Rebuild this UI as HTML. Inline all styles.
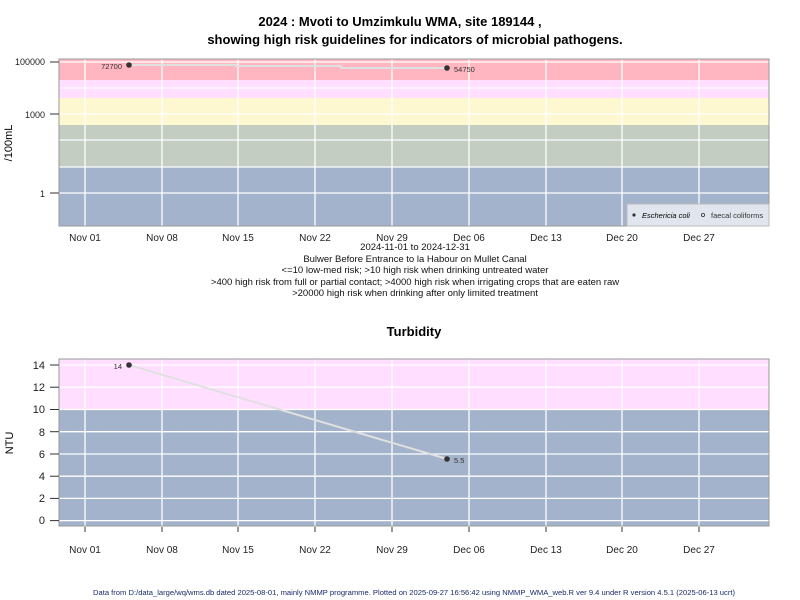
<!DOCTYPE html>
<html><head><style>body{margin:0;background:#fff}svg{display:block;font-family:"Liberation Sans",Arial,sans-serif}</style></head>
<body>
<svg width="800" height="600" viewBox="0 0 800 600" xmlns="http://www.w3.org/2000/svg">
<text x="400" y="26" text-anchor="middle" font-size="13" font-weight="bold">2024 : Mvoti to Umzimkulu WMA, site 189144 ,</text>
<text x="415" y="44" text-anchor="middle" font-size="13" font-weight="bold">showing high risk guidelines for indicators of microbial pathogens.</text>
<!-- top plot -->
<rect x="59" y="59" width="710" height="21" fill="#ffb6c1"/>
<rect x="59" y="80" width="710" height="18" fill="#ffdeff"/>
<rect x="59" y="98" width="710" height="27" fill="#fdf8cf"/>
<rect x="59" y="125" width="710" height="42" fill="#c3cdc1"/>
<rect x="59" y="167" width="710" height="59" fill="#a2b3cb"/>
<g stroke="#fff" stroke-width="1.3">
<line x1="59" x2="769" y1="62" y2="62"/><line x1="59" x2="769" y1="88" y2="88"/><line x1="59" x2="769" y1="114" y2="114"/><line x1="59" x2="769" y1="140" y2="140"/><line x1="59" x2="769" y1="167" y2="167"/><line x1="59" x2="769" y1="193" y2="193"/>
<line x1="85" x2="85" y1="59" y2="226"/><line x1="162" x2="162" y1="59" y2="226"/><line x1="238" x2="238" y1="59" y2="226"/><line x1="315" x2="315" y1="59" y2="226"/><line x1="392" x2="392" y1="59" y2="226"/><line x1="469" x2="469" y1="59" y2="226"/><line x1="546" x2="546" y1="59" y2="226"/><line x1="622" x2="622" y1="59" y2="226"/><line x1="699" x2="699" y1="59" y2="226"/>
</g>
<rect x="59" y="59" width="710" height="167" fill="none" stroke="#999"/>
<polyline points="129,65 236,65 236,66 341,66 341,68 447,68" fill="none" stroke="#e0e0e0" stroke-width="2"/>
<circle cx="129" cy="65" r="2.8" fill="#333"/><circle cx="447" cy="68" r="2.8" fill="#333"/>
<text x="122" y="69" text-anchor="end" font-size="7.5" fill="#333">72700</text>
<text x="454" y="72" font-size="7.5" fill="#333">54750</text>
<rect x="627" y="204" width="142" height="22" fill="#e1e6ee" stroke="#bbb"/>
<circle cx="634" cy="215" r="1.6" fill="#333"/><text x="642" y="218" font-size="7.5" font-style="italic">Eschericia coli</text>
<circle cx="703" cy="215" r="1.6" fill="none" stroke="#333" stroke-width="0.8"/><text x="711" y="218" font-size="7.5" fill="#333">faecal coliforms</text>
<g font-size="9" text-anchor="end" fill="#222">
<text x="45" y="65">100000</text><text x="45" y="118">1000</text><text x="45" y="197">1</text>
</g>
<g stroke="#333"><line x1="50" x2="59" y1="62" y2="62"/><line x1="50" x2="59" y1="114" y2="114"/><line x1="50" x2="59" y1="193" y2="193"/></g>
<text transform="translate(12,143) rotate(-90)" text-anchor="middle" font-size="11">/100mL</text>
<g font-size="10" text-anchor="middle" fill="#222">
<text x="85" y="241">Nov 01</text><text x="162" y="241">Nov 08</text><text x="238" y="241">Nov 15</text><text x="315" y="241">Nov 22</text><text x="392" y="241">Nov 29</text><text x="469" y="241">Dec 06</text><text x="546" y="241">Dec 13</text><text x="622" y="241">Dec 20</text><text x="699" y="241">Dec 27</text>
</g>
<g font-size="9.5" text-anchor="middle" fill="#111">
<text x="415" y="250">2024-11-01 to 2024-12-31</text>
<text x="415" y="262">Bulwer Before Entrance to la Habour on Mullet Canal</text>
<text x="415" y="273">&lt;=10 low-med risk; &gt;10 high risk when drinking untreated water</text>
<text x="415" y="285">&gt;400 high risk from full or partial contact; &gt;4000 high risk when irrigating crops that are eaten raw</text>
<text x="415" y="296">&gt;20000 high risk when drinking after only limited treatment</text>
</g>
<text x="414" y="336" text-anchor="middle" font-size="13" font-weight="bold">Turbidity</text>
<!-- bottom plot -->
<rect x="59" y="359" width="710" height="50.5" fill="#ffdeff"/>
<rect x="59" y="409.5" width="710" height="117" fill="#a2b3cb"/>
<g stroke="#fff" stroke-width="1.3">
<line x1="59" x2="769" y1="365" y2="365"/><line x1="59" x2="769" y1="387.2" y2="387.2"/><line x1="59" x2="769" y1="409.5" y2="409.5"/><line x1="59" x2="769" y1="431.7" y2="431.7"/><line x1="59" x2="769" y1="454" y2="454"/><line x1="59" x2="769" y1="476.2" y2="476.2"/><line x1="59" x2="769" y1="498.4" y2="498.4"/><line x1="59" x2="769" y1="520.6" y2="520.6"/>
<line x1="85" x2="85" y1="359" y2="526"/><line x1="162" x2="162" y1="359" y2="526"/><line x1="238" x2="238" y1="359" y2="526"/><line x1="315" x2="315" y1="359" y2="526"/><line x1="392" x2="392" y1="359" y2="526"/><line x1="469" x2="469" y1="359" y2="526"/><line x1="546" x2="546" y1="359" y2="526"/><line x1="622" x2="622" y1="359" y2="526"/><line x1="699" x2="699" y1="359" y2="526"/>
</g>
<rect x="59" y="359" width="710" height="167" fill="none" stroke="#999"/>
<line x1="129" y1="365" x2="447" y2="459" stroke="#e0e0e0" stroke-width="2"/>
<circle cx="129" cy="365" r="2.8" fill="#333"/><circle cx="447" cy="459" r="2.8" fill="#333"/>
<text x="122" y="369" text-anchor="end" font-size="7.5" fill="#333">14</text>
<text x="454" y="463" font-size="7.5" fill="#333">5.5</text>
<g font-size="11" text-anchor="end" fill="#222">
<text x="45" y="369">14</text><text x="45" y="391">12</text><text x="45" y="413">10</text><text x="45" y="436">8</text><text x="45" y="458">6</text><text x="45" y="480">4</text><text x="45" y="502">2</text><text x="45" y="524">0</text>
</g>
<g stroke="#333"><line x1="50" x2="59" y1="365" y2="365"/><line x1="50" x2="59" y1="387.2" y2="387.2"/><line x1="50" x2="59" y1="409.5" y2="409.5"/><line x1="50" x2="59" y1="431.7" y2="431.7"/><line x1="50" x2="59" y1="454" y2="454"/><line x1="50" x2="59" y1="476.2" y2="476.2"/><line x1="50" x2="59" y1="498.4" y2="498.4"/><line x1="50" x2="59" y1="520.6" y2="520.6"/>
<line x1="85" x2="85" y1="527" y2="532"/><line x1="162" x2="162" y1="527" y2="532"/><line x1="238" x2="238" y1="527" y2="532"/><line x1="315" x2="315" y1="527" y2="532"/><line x1="392" x2="392" y1="527" y2="532"/><line x1="469" x2="469" y1="527" y2="532"/><line x1="546" x2="546" y1="527" y2="532"/><line x1="622" x2="622" y1="527" y2="532"/><line x1="699" x2="699" y1="527" y2="532"/>
</g>
<text transform="translate(13,443) rotate(-90)" text-anchor="middle" font-size="11">NTU</text>
<g font-size="10" text-anchor="middle" fill="#222">
<text x="85" y="553">Nov 01</text><text x="162" y="553">Nov 08</text><text x="238" y="553">Nov 15</text><text x="315" y="553">Nov 22</text><text x="392" y="553">Nov 29</text><text x="469" y="553">Dec 06</text><text x="546" y="553">Dec 13</text><text x="622" y="553">Dec 20</text><text x="699" y="553">Dec 27</text>
</g>
<text x="93" y="595" font-size="7" fill="#1a2a6a" textLength="642" lengthAdjust="spacingAndGlyphs">Data from D:/data_large/wq/wms.db dated 2025-08-01, mainly NMMP programme. Plotted on 2025-09-27 16:56:42 using NMMP_WMA_web.R ver 9.4 under R version 4.5.1 (2025-06-13 ucrt)</text>
</svg>
</body></html>
